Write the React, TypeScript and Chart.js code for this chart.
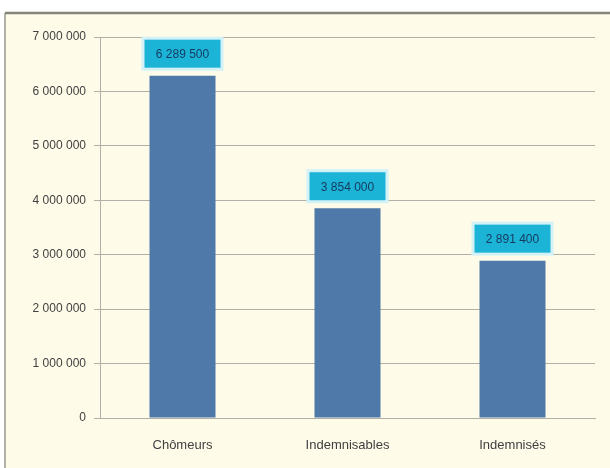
import React, { useEffect, useRef } from "react";
import { Chart, registerables } from "chart.js";

Chart.register(...registerables);

const categories = ["Chômeurs", "Indemnisables", "Indemnisés"];
const values = [6289500, 3854000, 2891400];
const valueLabels = ["6 289 500", "3 854 000", "2 891 400"];
const yTicks = [0, 1000000, 2000000, 3000000, 4000000, 5000000, 6000000, 7000000];

const fmt = (v: number) => String(Math.round(v)).replace(/\B(?=(\d{3})+(?!\d))/g, " ");
const FONT = "'Liberation Sans Narrow', 'Liberation Sans', sans-serif";

const framePlugin = {
  id: "frame",
  beforeDraw(chart: any) {
    const { ctx, width, height } = chart;
    ctx.save();
    ctx.fillStyle = "#ffffff";
    ctx.fillRect(0, 0, width, height);
    ctx.fillStyle = "#fffbe9";
    ctx.fillRect(5, 13, width - 5, height - 13);
    ctx.strokeStyle = "#9a9a8a";
    ctx.lineWidth = 1.5;
    ctx.beginPath();
    ctx.moveTo(5, height);
    ctx.lineTo(5, 13);
    ctx.stroke();
    ctx.strokeStyle = "#85857a";
    ctx.lineWidth = 2.5;
    ctx.beginPath();
    ctx.moveTo(5, 13);
    ctx.lineTo(width, 13);
    ctx.stroke();
    ctx.restore();
  },
};

const labelPlugin = {
  id: "boxLabels",
  afterDatasetsDraw(chart: any) {
    const { ctx } = chart;
    const meta = chart.getDatasetMeta(0);
    ctx.save();
    meta.data.forEach((bar: any, i: number) => {
      const w = bar.width + 10;
      const h = 28;
      const x = bar.x - w / 2;
      const y = bar.y - 8 - h;
      ctx.fillStyle = "#d2f2f7";
      ctx.fillRect(x - 3, y - 3, w + 6, h + 6);
      ctx.fillStyle = "#1bb3d6";
      ctx.fillRect(x, y, w, h);
      ctx.fillStyle = "#163a5e";
      ctx.font = `12px ${FONT}`;
      ctx.textAlign = "center";
      ctx.textBaseline = "middle";
      ctx.fillText(valueLabels[i], bar.x, y + h / 2 + 1);
    });
    ctx.restore();
  },
};

export default function App() {
  const ref = useRef<HTMLCanvasElement>(null);
  useEffect(() => {
    if (!ref.current) return;
    const chart = new Chart(ref.current, {
      type: "bar",
      data: {
        labels: categories,
        datasets: [
          {
            data: values,
            backgroundColor: "#4f79a8",
            categoryPercentage: 1,
            barPercentage: 0.4,
          },
        ],
      },
      options: {
        animation: false,
        responsive: false,
        devicePixelRatio: 1,
        layout: { padding: { top: 37, right: 15, left: 0, bottom: 0 } },
        plugins: { legend: { display: false }, tooltip: { enabled: false } },
        scales: {
          x: {
            grid: { display: false, drawOnChartArea: false },
            border: { color: "#b0b0a8", width: 1 },
            ticks: { color: "#404040", font: { family: FONT, size: 13 }, padding: 12 },
            afterFit: (s: any) => {
              s.height = 50;
            },
          },
          y: {
            min: 0,
            max: 7000000,
            afterBuildTicks: (s: any) => {
              s.ticks = yTicks.map((v) => ({ value: v }));
            },
            grid: { color: "#b0b0a6", tickLength: 6, drawTicks: true },
            border: { color: "#b0b0a8", width: 1 },
            ticks: {
              color: "#404040",
              font: { family: FONT, size: 12 },
              padding: 8,
              callback: (v: any) => fmt(Number(v)),
            },
            afterFit: (s: any) => {
              s.width = 100;
            },
          },
        },
      },
      plugins: [framePlugin, labelPlugin],
    });
    return () => chart.destroy();
  }, []);
  return (
    <div style={{ position: "absolute", left: 0, top: 0 }}>
      <canvas ref={ref} width={610} height={468} style={{ display: "block" }} />
    </div>
  );
}
